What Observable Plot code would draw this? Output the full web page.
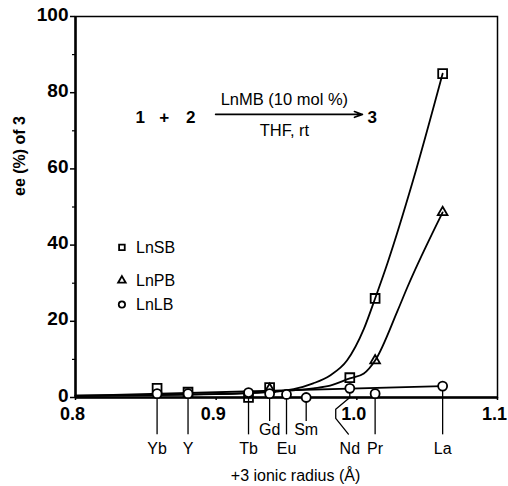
<!DOCTYPE html>
<html><head><meta charset="utf-8">
<script src="https://cdn.jsdelivr.net/npm/d3@7"></script>
<script src="https://cdn.jsdelivr.net/npm/@observablehq/plot@0.6"></script>
<style>
body{margin:0;background:#fff}
svg{font-family:"Liberation Sans",Arial,Helvetica,sans-serif}
</style>
</head><body><div id="chart"></div>
<script>
// Elements and their +3 ionic radii (Å)
const elements = ["Yb","Y","Tb","Gd","Eu","Sm","Nd","Pr","La"];
const radius   = [0.858,0.880,0.923,0.938,0.950,0.964,0.995,1.013,1.061];
const labelRow = ["low","low","low","high","low","high","low","low","low"];

// Measured ee (%) of 3
const sbElements = ["Yb","Y","Tb","Gd","Nd","Pr","La"];
const sbEE       = [2.4, 1.4, 0.0, 2.6, 5.2, 26, 85];
const pbElements = ["Gd","Pr","La"];
const pbEE       = [2.2, 9.7, 48.6];
const lbElements = ["Yb","Y","Tb","Gd","Eu","Sm","Nd","Pr","La"];
const lbEE       = [1.0, 1.0, 1.3, 1.0, 0.8, 0.0, 2.4, 1.0, 3.0];

// Hand-drawn trend curves
const sbFitR  = [0.80,0.88,0.93,0.955,0.969,0.981,0.993,1.005,1.013,1.022,1.040,1.061];
const sbFitEE = [0.5, 0.8, 1.3, 2.2,  3.7,  5.8,  9.7,  18,   26,   35.5, 57,   85];
const pbFitR  = [0.80,0.90,0.94,0.969,0.981,0.995,1.005,1.013,1.029,1.036,1.061];
const pbFitEE = [0.5, 0.9, 1.5, 2.4,  3.1,  5.0,  6.3,  9.7,  22.8, 29,   48.6];
const lbFitR  = [0.80, 1.061];
const lbFitEE = [0.4, 3.0];

// Axis ticks
const yTicks = [0,20,40,60,80,100];
const yMinor = [10,30,50,70,90];
const xTicks = [0.8,0.9,1.0,1.1];

const rOf = Object.fromEntries(elements.map((e,i)=>[e,radius[i]]));
const series = (els, ee) => els.map((e,i)=>({r:rOf[e], ee:ee[i]}));
const fit = (rs, ee) => rs.map((r,i)=>({r, ee:ee[i]}));
const sb = series(sbElements, sbEE), pb = series(pbElements, pbEE), lb = series(lbElements, lbEE);
const lbOf = Object.fromEntries(lbElements.map((e,i)=>[e,lbEE[i]]));
const drops = elements.map((e,i)=>({e, r:radius[i], top:lbOf[e], row:labelRow[i]}));
const ndR = rOf["Nd"];
const ndLeader = [
  {r:ndR, ee:lbOf["Nd"]-1.3},{r:ndR, ee:0},{r:ndR-0.010, ee:-3.1},
  {r:ndR-0.010, ee:-5.5},{r:ndR-0.001, ee:-9.6}
];

const legend = [
  {name:"LnSB", symbol:"square",   ee:39.4},
  {name:"LnPB", symbol:"triangle", ee:30.7},
  {name:"LnLB", symbol:"circle",   ee:24.4}
];

const chart = Plot.plot({
  width: 508, height: 486,
  marginLeft: 75, marginRight: 11, marginTop: 16, marginBottom: 89,
  x: {domain:[0.8,1.1]},
  y: {domain:[0,100]},
  marks: [
    Plot.axisY({ticks:yTicks, tickSize:5, text:null, label:null, strokeWidth:1.5}),
    Plot.text(yTicks, {x:()=>0.8, y:d=>d, text:d=>String(d), textAnchor:"end", dx:-7, dy:-2, fontSize:19, fontWeight:"bold"}),
    Plot.axisY({ticks:yMinor, tickSize:3, text:null, label:null, strokeWidth:1.2}),
    Plot.axisX({ticks:xTicks, tickSize:3, text:null, label:null, strokeWidth:1.5}),
    Plot.text(xTicks, {x:d=>d, y:()=>0, text:d3.format(".1f"), dy:16.5, dx:-3, fontSize:18, fontWeight:"bold"}),
    Plot.frame({stroke:"#000", strokeWidth:1.5}),
    Plot.ruleY([0], {stroke:"#000", strokeWidth:2.5}),
    Plot.ruleX([0.8], {stroke:"#000", strokeWidth:2.5}),
    // trend curves
    Plot.line(fit(sbFitR, sbFitEE), {x:"r", y:"ee", curve:"monotone-x", strokeWidth:1.8}),
    Plot.line(fit(pbFitR, pbFitEE), {x:"r", y:"ee", curve:"monotone-x", strokeWidth:1.8}),
    Plot.line(fit(lbFitR, lbFitEE), {x:"r", y:"ee", strokeWidth:1.8}),
    // drop lines to element labels
    Plot.ruleX(drops.filter(d=>d.e!=="Nd"), {x:"r", y1:"top", y2:d=>d.row==="high"?-6.3:-9.8, insetTop:5, strokeWidth:1.3}),
    Plot.line(ndLeader, {x:"r", y:"ee", strokeWidth:1.3}),
    Plot.text(drops, {x:"r", y:d=>d.row==="high"?-8.3:-13.2, text:"e", fontSize:16, dy:1}),
    // data points
    Plot.dot(sb, {x:"r", y:"ee", symbol:"square", r:5, stroke:"#000", strokeWidth:1.8, fill:"none"}),
    Plot.dot(pb, {x:"r", y:"ee", symbol:"triangle", r:3.6, stroke:"#000", strokeWidth:1.8, fill:"none"}),
    Plot.dot(lb, {x:"r", y:"ee", symbol:"circle", r:4.5, stroke:"#000", strokeWidth:1.8, fill:"white"}),
    // legend
    Plot.dot(legend, {x:()=>0.833, y:"ee", symbol:"symbol", r:d=>d.symbol==="triangle"?3.3:4.2, stroke:"#000", strokeWidth:1.8, fill:"none"}),
    Plot.text(legend, {x:()=>0.843, y:"ee", text:"name", textAnchor:"start", fontSize:16}),
    // reaction scheme
    Plot.text([{t:"1",r:0.846},{t:"+",r:0.863},{t:"2",r:0.882},{t:"3",r:1.011}], {x:"r", y:()=>73.4, text:"t", fontSize:17, fontWeight:"bold"}),
    Plot.arrow([{x1:0.8996, x2:1.004, y:74.3}], {x1:"x1", x2:"x2", y1:"y", y2:"y", strokeWidth:1.6, headLength:8, headAngle:40}),
    Plot.text([{t:"LnMB (10 mol %)", ee:78.2},{t:"THF, rt", ee:70.0}], {x:()=>0.9485, y:"ee", text:"t", fontSize:16.5}),
    // axis titles
    Plot.text(["ee (%) of 3"], {frameAnchor:"left", dx:-56, dy:-11, rotate:-90, fontSize:16, fontWeight:"bold"}),
    Plot.text(["+3 ionic radius (Å)"], {frameAnchor:"bottom", lineAnchor:"middle", dx:9, dy:78, fontSize:16})
  ]
});
document.getElementById("chart").append(chart);
</script>
</body></html>
